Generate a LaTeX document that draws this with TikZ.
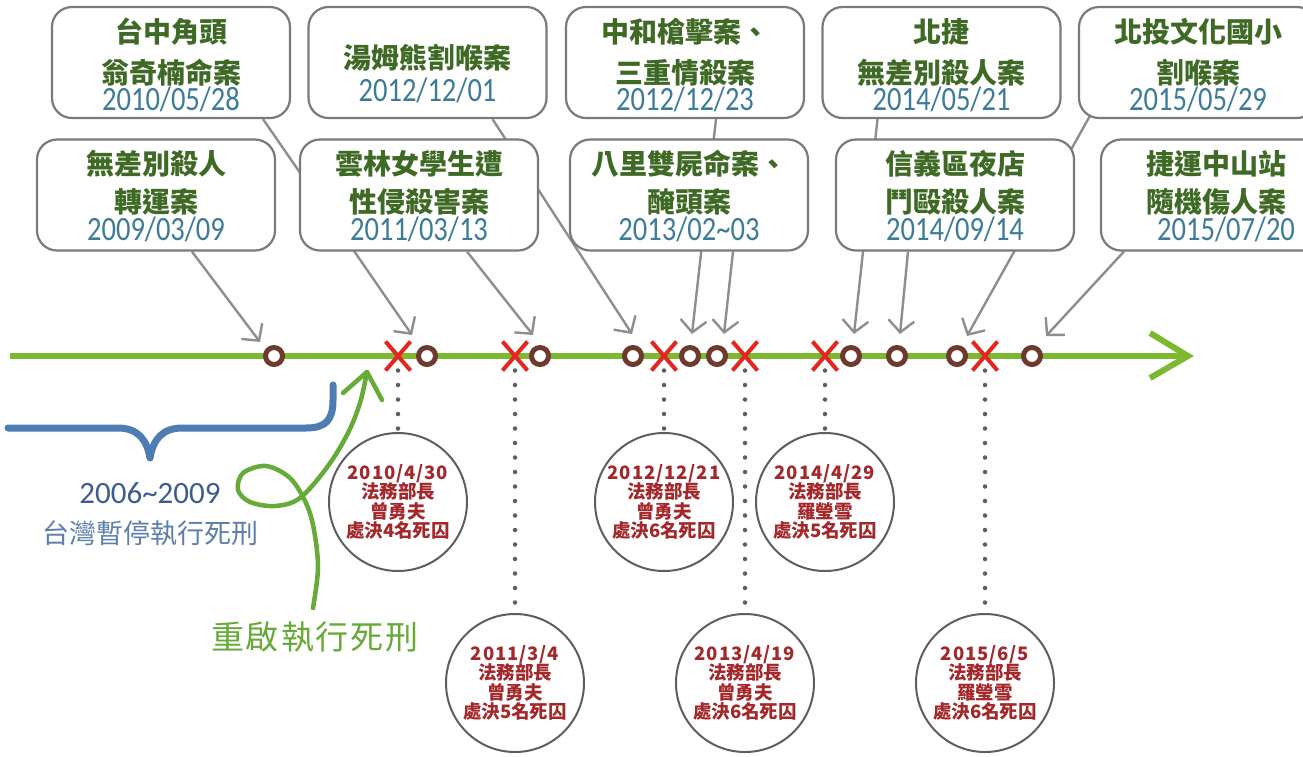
\documentclass[tikz,border=0pt]{standalone}
\usepackage{fontspec}
\usepackage{graphicx}
\setmainfont{Noto Sans CJK TC}
\newfontfamily\cjk{Noto Sans CJK TC}
\newfontfamily\cjkwide{Noto Sans CJK TC}[LetterSpace=5]
\newfontfamily\datefont{Carlito}
\newfontfamily\handfont{Noto Sans CJK TC}[LetterSpace=6]
\usetikzlibrary{shapes.misc,arrows.meta,calc}
\pgfdeclarelayer{bg}
\pgfsetlayers{bg,main}
\definecolor{boxgray}{HTML}{7A7A7A}
\definecolor{titlegreen}{HTML}{3F6A25}
\definecolor{datablue}{HTML}{3D7C97}
\definecolor{tlgreen}{HTML}{7CB930}
\definecolor{mkbrown}{HTML}{6E3A2E}
\definecolor{xred}{HTML}{E3261E}
\definecolor{arrowgray}{HTML}{8E8E8E}
\definecolor{circtext}{HTML}{A3282B}
\definecolor{circgray}{HTML}{5E5E5E}
\definecolor{braceblue}{HTML}{4E7DB4}
\definecolor{numblue}{HTML}{3E5C8E}
\definecolor{labelblue}{HTML}{5E7FAA}
\definecolor{handgreen}{HTML}{66AA38}
\newcommand\dte[1]{\scalebox{0.84}[1]{#1}}
\newcommand\cdate[1]{{\cjkwide\bfseries #1}}
\begin{document}
\begin{tikzpicture}[x=1pt,y=-1pt,
  box/.style={rectangle,rounded corners=20pt,draw=boxgray,line width=2.2pt,fill=white,minimum width=238pt,minimum height=111pt,inner sep=0pt},
  ttl/.style={font=\cjk\bfseries\fontsize{28}{30}\selectfont,text=titlegreen,inner sep=0pt},
  dt/.style={font=\datefont\fontsize{34}{36}\selectfont,text=datablue,inner sep=0pt},
  evt/.style={circle,draw=mkbrown,line width=5pt,fill=white,minimum size=17pt,inner sep=0pt},
  exe/.style={cross out,draw=xred,line width=4pt,minimum width=21pt,minimum height=25pt,inner sep=0pt},
  garrow/.style={draw=arrowgray,line width=2.4pt,-{Straight Barb[length=12pt,width=26pt]}},
  tline/.style={draw=tlgreen,line width=6pt},
  dots/.style={draw=circgray,line width=4.5pt,line cap=round,dash pattern=on 0pt off 14.5pt},
  exec/.style={circle,draw=circgray,line width=2pt,minimum size=138pt,inner sep=0pt,align=center,text=circtext,font=\cjk\bfseries\fontsize{18.5}{19.5}\selectfont},
  hand/.style={draw=handgreen,line width=4.5pt,line cap=round,line join=round}
]
\useasboundingbox (0,0) rectangle (1303,756);

% ---------- boxes (top row) ----------
\node[box] (A) at (171,62.5) {};
\node[ttl] (A1) at (171,32) {台中角頭};
\node[ttl] (A2) at (171,73) {翁奇楠命案};
\node[dt]  (A3) at (171,99) {\dte{2010/05/28}};

\node[box] (B) at (427.5,62.5) {};
\node[ttl] (B1) at (427.5,58) {湯姆熊割喉案};
\node[dt]  (B2) at (427.5,90) {\dte{2012/12/01}};

\node[box] (C) at (685,62.5) {};
\node[ttl] (C1) at (685,32) {中和槍擊案、};
\node[ttl] (C2) at (685,73) {三重情殺案};
\node[dt]  (C3) at (685,99) {\dte{2012/12/23}};

\node[box] (D) at (941.5,62.5) {};
\node[ttl] (D1) at (941.5,32) {北捷};
\node[ttl] (D2) at (941.5,73) {無差別殺人案};
\node[dt]  (D3) at (941.5,99) {\dte{2014/05/21}};

\node[box] (E) at (1198,62.5) {};
\node[ttl] (E1) at (1198,32) {北投文化國小};
\node[ttl] (E2) at (1198,73) {割喉案};
\node[dt]  (E3) at (1198,99) {\dte{2015/05/29}};

% ---------- boxes (bottom row) ----------
\node[box] (F) at (156,195) {};
\node[ttl] (F1) at (156,164) {無差別殺人};
\node[ttl] (F2) at (156,202) {轉運案};
\node[dt]  (F3) at (156,229) {\dte{2009/03/09}};

\node[box] (G) at (419,195) {};
\node[ttl] (G1) at (419,164) {雲林女學生遭};
\node[ttl] (G2) at (419,202) {性侵殺害案};
\node[dt]  (G3) at (419,229) {\dte{2011/03/13}};

\node[box] (H) at (689,195) {};
\node[ttl] (H1) at (689,164) {八里雙屍命案、};
\node[ttl] (H2) at (689,202) {醃頭案};
\node[dt]  (H3) at (689,229) {\dte{2013/02\textasciitilde 03}};

\node[box] (I) at (955,195) {};
\node[ttl] (I1) at (955,164) {信義區夜店};
\node[ttl] (I2) at (955,202) {鬥毆殺人案};
\node[dt]  (I3) at (955,229) {\dte{2014/09/14}};

\node[box] (J) at (1220,195) {};
\node[ttl] (J1) at (1216,164) {捷運中山站};
\node[ttl] (J2) at (1216,202) {隨機傷人案};
\node[dt]  (J3) at (1226,229) {\dte{2015/07/20}};

% ---------- timeline markers ----------
\node[evt] (e1)  at (274,356) {};
\node[evt] (e2)  at (427,356) {};
\node[evt] (e3)  at (540,356) {};
\node[evt] (e4)  at (633,356) {};
\node[evt] (e5)  at (690,356) {};
\node[evt] (e6)  at (717,356) {};
\node[evt] (e7)  at (851,356) {};
\node[evt] (e8)  at (897,356) {};
\node[evt] (e9)  at (957,356) {};
\node[evt] (e10) at (1032,356) {};

\node[exe] (x1) at (398,356) {};
\node[exe] (x2) at (515,356) {};
\node[exe] (x3) at (664,356) {};
\node[exe] (x4) at (745,356) {};
\node[exe] (x5) at (825,356) {};
\node[exe] (x6) at (985,356) {};

% arrow tips (free ends)
\coordinate (t1)  at (260,342);
\coordinate (t2)  at (412,335);
\coordinate (t3)  at (533,335);
\coordinate (t4)  at (632,334);
\coordinate (t5)  at (692,334);
\coordinate (t6)  at (724,334);
\coordinate (t7)  at (854,334);
\coordinate (t8)  at (900,334);
\coordinate (t9)  at (967,336);
\coordinate (t10) at (1046,336);

\coordinate (tl0) at (10,356);
\coordinate (tl1) at (1188,356);

\begin{pgfonlayer}{bg}
  \fill[white] (0,0) rectangle (1303,756);
  \draw[tline] (tl0) -- (tl1);
  \draw[tline,line join=miter] ($(tl1)+(-38,-23)$) -- (tl1) -- ($(tl1)+(-38,22)$);
  \draw[garrow] ($(F.south)+(36,0)$) -- (t1);
  \draw[garrow] ($(A.south)+(92,0)$) -- (t2);
  \draw[garrow] ($(G.south)+(48,0)$) -- (t3);
  \draw[garrow] ($(B.south)+(65,0)$) -- (t4);
  \draw[garrow] ($(C.south)+(31,0)$) -- (t5);
  \draw[garrow] ($(H.south)+(44,0)$) -- (t6);
  \draw[garrow] ($(D.south)+(-64,0)$) -- (t7);
  \draw[garrow] ($(I.south)+(-47,0)$) -- (t8);
  \draw[garrow] ($(E.south west)+(13,-5)$) -- (t9);
  \draw[garrow] ($(J.south west)+(24,0)$) -- (t10);
\end{pgfonlayer}

% ---------- execution circles ----------
\node[exec] (c1) at (398,502) {\cdate{2010/4/30}\\法務部長\\曾勇夫\\處決4名死囚};
\node[exec] (c2) at (515,683) {\cdate{2011/3/4}\\法務部長\\曾勇夫\\處決5名死囚};
\node[exec] (c3) at (664,502) {\cdate{2012/12/21}\\法務部長\\曾勇夫\\處決6名死囚};
\node[exec] (c4) at (745,683) {\cdate{2013/4/19}\\法務部長\\曾勇夫\\處決6名死囚};
\node[exec] (c5) at (825,502) {\cdate{2014/4/29}\\法務部長\\羅瑩雪\\處決5名死囚};
\node[exec] (c6) at (985,683) {\cdate{2015/6/5}\\法務部長\\羅瑩雪\\處決6名死囚};

\draw[dots] (x1) -- (c1);
\draw[dots] (x2) -- (c2);
\draw[dots] (x3) -- (c3);
\draw[dots] (x4) -- (c4);
\draw[dots] (x5) -- (c5);
\draw[dots] (x6) -- (c6);

% ---------- brace and labels ----------
\draw[draw=braceblue,line width=7pt,line cap=round,line join=round]
  (8,428) -- (118,428) .. controls (138,428) and (147,440) .. (150,458)
  .. controls (153,440) and (162,428) .. (182,428) -- (306,428)
  .. controls (326,428) and (333,420) .. (333,400) -- (333,385);
\node[font=\datefont\fontsize{31}{33}\selectfont,text=numblue,inner sep=0pt] (yrs) at (150,493) {2006\textasciitilde 2009};
\node[font=\cjk\fontsize{27}{29}\selectfont,text=labelblue,inner sep=0pt] (stop) at (150,533) {台灣暫停執行死刑};

% ---------- hand-drawn green arrow ----------
\node[font=\handfont\fontsize{33}{35}\selectfont,text=handgreen,inner sep=0pt] (hand) at (315,637) {重啟執行死刑};
\coordinate (gtip) at (367,372);
\coordinate (gb1) at (343,393);
\coordinate (gb2) at (382,400);
\draw[hand] plot[smooth,tension=0.55] coordinates {(313,608) (318,568) (314,530) (306,503) (290,478) (266,466) (243,473) (238,490) (250,502) (275,506) (300,498) (328,466) (348,433) (360,403) (gtip)};
\draw[hand] (gb1) -- (gtip) -- (gb2);
\end{tikzpicture}
\end{document}
